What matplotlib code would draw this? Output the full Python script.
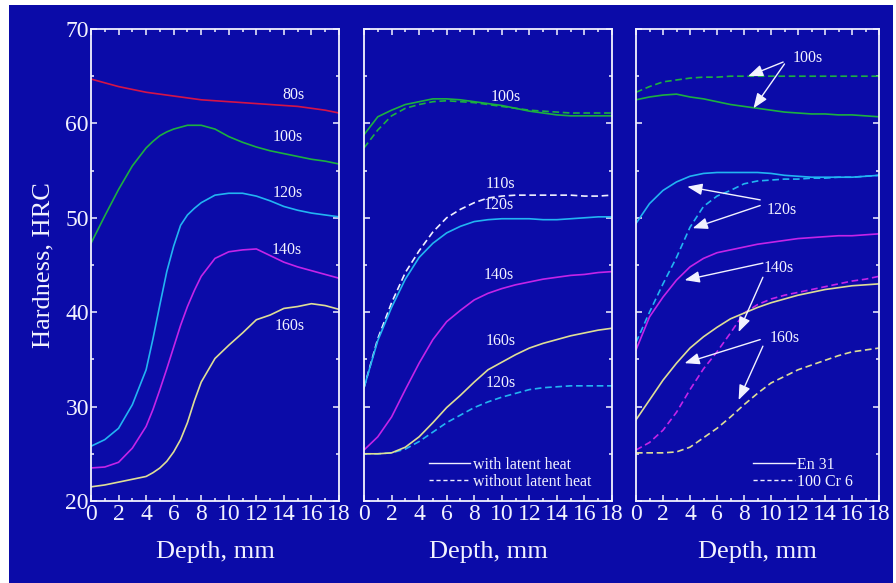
import matplotlib
matplotlib.use("Agg")
import matplotlib.pyplot as plt
from matplotlib.lines import Line2D
from matplotlib.patches import Rectangle
from matplotlib.ticker import MultipleLocator

plt.rcParams['font.family'] = ['Liberation Serif', 'DejaVu Serif']

# ---------------- data ----------------
depth_a = [0, 1, 2, 3, 4, 4.5, 5, 5.5, 6, 6.5, 7, 7.5, 8, 9, 10, 11, 12, 13, 14, 15, 16, 17, 18]
depth_b = [0, 1, 2, 3, 4, 5, 6, 7, 8, 9, 10, 11, 12, 13, 14, 15, 16, 17, 18]

# Panel 1: hardness profiles for different quench times
p1_80s = [64.7, 64.3, 63.9, 63.6, 63.3, 63.2, 63.1, 63.0, 62.9, 62.8, 62.7, 62.6, 62.5,
          62.4, 62.3, 62.2, 62.1, 62.0, 61.9, 61.8, 61.6, 61.4, 61.1]
p1_100s = [47.3, 50.2, 53.0, 55.5, 57.4, 58.1, 58.7, 59.1, 59.4, 59.6, 59.8, 59.8, 59.8,
           59.4, 58.6, 58.0, 57.5, 57.1, 56.8, 56.5, 56.2, 56.0, 55.7]
p1_120s = [25.8, 26.5, 27.7, 30.2, 33.9, 37.2, 40.8, 44.3, 47.0, 49.2, 50.3, 51.0, 51.6,
           52.4, 52.6, 52.6, 52.3, 51.8, 51.2, 50.8, 50.5, 50.3, 50.1]
p1_140s = [23.5, 23.6, 24.1, 25.6, 27.9, 29.7, 31.8, 34.0, 36.3, 38.6, 40.6, 42.3, 43.8,
           45.7, 46.4, 46.6, 46.7, 46.0, 45.3, 44.8, 44.4, 44.0, 43.6]
p1_160s = [21.5, 21.7, 22.0, 22.3, 22.6, 23.0, 23.5, 24.2, 25.2, 26.5, 28.3, 30.6, 32.6,
           35.1, 36.5, 37.8, 39.2, 39.7, 40.4, 40.6, 40.9, 40.7, 40.3]

# Panel 2: with / without latent heat
p2_100s_with = [58.8, 60.7, 61.4, 62.0, 62.3, 62.6, 62.6, 62.5, 62.3, 62.1, 61.9, 61.6,
                61.3, 61.1, 60.9, 60.8, 60.8, 60.8, 60.8]
p2_100s_without = [57.4, 59.3, 60.8, 61.6, 62.0, 62.3, 62.4, 62.3, 62.2, 62.0, 61.8, 61.6,
                   61.4, 61.3, 61.2, 61.1, 61.1, 61.1, 61.1]
p2_120s_with = [32.0, 37.0, 40.5, 43.5, 45.8, 47.3, 48.4, 49.1, 49.6, 49.8, 49.9, 49.9,
                49.9, 49.8, 49.8, 49.9, 50.0, 50.1, 50.1]
p2_110s_without = [32.0, 37.2, 41.0, 44.2, 46.5, 48.5, 50.0, 50.9, 51.6, 52.1, 52.3, 52.4,
                   52.4, 52.4, 52.4, 52.4, 52.3, 52.3, 52.4]
p2_140s_with = [25.4, 26.8, 28.9, 31.8, 34.6, 37.1, 39.0, 40.2, 41.3, 42.0, 42.5, 42.9,
                43.2, 43.5, 43.7, 43.9, 44.0, 44.2, 44.3]
p2_160s_with = [25.0, 25.0, 25.1, 25.7, 26.8, 28.3, 29.9, 31.2, 32.6, 33.9, 34.7, 35.5,
                36.2, 36.7, 37.1, 37.5, 37.8, 38.1, 38.3]
p2_120s_without = [25.0, 25.0, 25.1, 25.5, 26.3, 27.3, 28.3, 29.1, 29.9, 30.5, 31.0, 31.4,
                   31.8, 32.0, 32.1, 32.2, 32.2, 32.2, 32.2]

# Panel 3: En 31 (solid) vs 100 Cr 6 (dashed)
p3_100s_en31 = [62.5, 62.8, 63.0, 63.1, 62.8, 62.6, 62.3, 62.0, 61.8, 61.6, 61.4, 61.2,
                61.1, 61.0, 61.0, 60.9, 60.9, 60.8, 60.7]
p3_100s_cr6 = [63.3, 63.9, 64.4, 64.6, 64.8, 64.9, 64.9, 65.0, 65.0, 65.0, 65.0, 65.0,
               65.0, 65.0, 65.0, 65.0, 65.0, 65.0, 65.0]
p3_120s_en31 = [49.4, 51.5, 52.9, 53.8, 54.4, 54.7, 54.8, 54.8, 54.8, 54.8, 54.7, 54.5,
                54.4, 54.3, 54.3, 54.3, 54.3, 54.4, 54.5]
p3_120s_cr6 = [36.8, 40.0, 43.0, 45.8, 49.0, 51.2, 52.3, 52.9, 53.6, 53.9, 54.0, 54.1,
               54.1, 54.2, 54.2, 54.3, 54.3, 54.4, 54.5]
p3_140s_en31 = [36.0, 39.5, 41.6, 43.4, 44.8, 45.7, 46.3, 46.6, 46.9, 47.2, 47.4, 47.6,
                47.8, 47.9, 48.0, 48.1, 48.1, 48.2, 48.3]
p3_140s_cr6 = [25.4, 26.2, 27.5, 29.4, 31.8, 34.0, 35.8, 37.8, 39.9, 40.8, 41.4, 41.8,
               42.1, 42.4, 42.7, 43.0, 43.3, 43.5, 43.8]
p3_160s_en31 = [28.6, 30.7, 32.8, 34.6, 36.2, 37.4, 38.4, 39.3, 39.9, 40.5, 41.0, 41.4,
                41.8, 42.1, 42.4, 42.6, 42.8, 42.9, 43.0]
p3_160s_cr6 = [25.1, 25.1, 25.1, 25.2, 25.7, 26.7, 27.7, 28.9, 30.2, 31.4, 32.5, 33.2,
               33.9, 34.4, 34.9, 35.4, 35.8, 36.0, 36.2]

x_ticks = [0, 2, 4, 6, 8, 10, 12, 14, 16, 18]
y_ticks = [20, 30, 40, 50, 60, 70]

# ---------------- style ----------------
BG = '#0b0ba8'
FG = '#f2f2ff'
C_RED = '#d41448'
C_GREEN = '#1cb040'
C_CYAN = '#22b4f2'
C_MAG = '#c424e8'
C_YEL = '#dede96'
C_WHITE = '#f0f0ff'
LW = 1.2
DASH = (0, (4.0, 2.2))

W, H = 896, 583
fig = plt.figure(figsize=(W / 100, H / 100), dpi=100, facecolor='white')
fig.patches.append(Rectangle((9 / W, 0), (893 - 9) / W, (H - 5) / H,
                             transform=fig.transFigure, facecolor=BG,
                             edgecolor='none', zorder=-10))


def px_axes(x0, x1, y0=29, y1=501):
    return fig.add_axes([x0 / W, (H - y1) / H, (x1 - x0) / W, (y1 - y0) / H])


def style(ax, show_y):
    ax.set_facecolor(BG)
    ax.set_xlim(0, 18)
    ax.set_ylim(20, 70)
    ax.set_xticks(x_ticks)
    ax.xaxis.set_minor_locator(MultipleLocator(1))
    ax.set_yticks(y_ticks)
    ax.yaxis.set_minor_locator(MultipleLocator(5))
    for s in ax.spines.values():
        s.set_color(FG)
        s.set_linewidth(1.3)
    ax.tick_params(which='both', direction='in', top=True, right=True,
                   colors=FG, width=1.1)
    ax.tick_params(which='major', length=4.5, labelsize=17, pad=2)
    ax.tick_params(which='minor', length=2.5)
    ax.tick_params(axis='y', pad=1.5)
    if not show_y:
        ax.set_yticklabels([])
    ax.set_xlabel('Depth, mm', color=FG, fontsize=19, labelpad=12)


def label(ax, x, y, s):
    ax.text(x, y, s, color=FG, fontsize=11.5, ha='center', va='center')


def arrow(ax, tail, head):
    ax.annotate('', xy=head, xytext=tail,
                arrowprops=dict(arrowstyle='-|>,head_length=0.9,head_width=0.35',
                                color=FG, lw=1.0, mutation_scale=10,
                                shrinkA=0, shrinkB=0))


# ---------------- panel 1 ----------------
ax1 = px_axes(91, 339)
style(ax1, True)
ax1.set_ylabel('Hardness, HRC', color=FG, fontsize=19, labelpad=8)
ax1.plot(depth_a, p1_80s, color=C_RED, lw=LW)
ax1.plot(depth_a, p1_100s, color=C_GREEN, lw=LW)
ax1.plot(depth_a, p1_120s, color=C_CYAN, lw=LW)
ax1.plot(depth_a, p1_140s, color=C_MAG, lw=LW)
ax1.plot(depth_a, p1_160s, color=C_YEL, lw=LW)
label(ax1, 14.7, 63.0, '80s')
label(ax1, 14.3, 58.6, '100s')
label(ax1, 14.3, 52.6, '120s')
label(ax1, 14.2, 46.6, '140s')
label(ax1, 14.4, 38.5, '160s')

# ---------------- panel 2 ----------------
ax2 = px_axes(364, 612)
style(ax2, False)
ax2.plot(depth_b, p2_100s_with, color=C_GREEN, lw=LW)
ax2.plot(depth_b, p2_100s_without, color=C_GREEN, lw=LW, ls=DASH)
ax2.plot(depth_b, p2_110s_without, color=C_WHITE, lw=LW, ls=DASH)
ax2.plot(depth_b, p2_120s_with, color=C_CYAN, lw=LW)
ax2.plot(depth_b, p2_140s_with, color=C_MAG, lw=LW)
ax2.plot(depth_b, p2_120s_without, color=C_CYAN, lw=LW, ls=DASH)
ax2.plot(depth_b, p2_160s_with, color=C_YEL, lw=LW)
label(ax2, 10.3, 62.8, '100s')
label(ax2, 9.9, 53.6, '110s')
label(ax2, 9.8, 51.4, '120s')
label(ax2, 9.8, 43.9, '140s')
label(ax2, 9.9, 37.0, '160s')
label(ax2, 9.9, 32.5, '120s')

handles = [Line2D([], [], color=C_WHITE, lw=1.0),
           Line2D([], [], color=C_WHITE, lw=1.0, ls=(0, (3, 2)))]
leg2 = ax2.legend(handles, ['with latent heat', 'without latent heat'],
                  loc='lower right', frameon=False, fontsize=11.5,
                  handlelength=2.6, handletextpad=0.15, labelspacing=0.05,
                  borderaxespad=0.3, bbox_to_anchor=(0.96, 0.0))
for t in leg2.get_texts():
    t.set_color(FG)

# ---------------- panel 3 ----------------
ax3 = px_axes(636, 879)
style(ax3, False)
ax3.plot(depth_b, p3_100s_cr6, color=C_GREEN, lw=LW, ls=DASH)
ax3.plot(depth_b, p3_100s_en31, color=C_GREEN, lw=LW)
ax3.plot(depth_b, p3_120s_en31, color=C_CYAN, lw=LW)
ax3.plot(depth_b, p3_120s_cr6, color=C_CYAN, lw=LW, ls=DASH)
ax3.plot(depth_b, p3_140s_en31, color=C_MAG, lw=LW)
ax3.plot(depth_b, p3_140s_cr6, color=C_MAG, lw=LW, ls=DASH)
ax3.plot(depth_b, p3_160s_en31, color=C_YEL, lw=LW)
ax3.plot(depth_b, p3_160s_cr6, color=C_YEL, lw=LW, ls=DASH)

label(ax3, 12.7, 66.9, '100s')
arrow(ax3, (10.9, 66.5), (8.3, 65.0))
arrow(ax3, (11.0, 66.3), (8.7, 61.6))
label(ax3, 10.8, 50.8, '120s')
arrow(ax3, (9.2, 51.9), (3.8, 53.3))
arrow(ax3, (9.2, 51.3), (4.2, 48.9))
label(ax3, 10.6, 44.7, '140s')
arrow(ax3, (9.4, 45.2), (3.6, 43.4))
arrow(ax3, (9.4, 43.7), (7.6, 37.9))
label(ax3, 11.0, 37.3, '160s')
arrow(ax3, (9.2, 37.1), (3.6, 34.6))
arrow(ax3, (9.4, 36.4), (7.6, 30.7))

leg3 = ax3.legend(handles, ['En 31', '100 Cr 6'],
                  loc='lower right', frameon=False, fontsize=11.5,
                  handlelength=2.6, handletextpad=0.15, labelspacing=0.05,
                  borderaxespad=0.3, bbox_to_anchor=(0.94, 0.0))
for t in leg3.get_texts():
    t.set_color(FG)

fig.savefig('out.png', dpi=100, facecolor='white')
